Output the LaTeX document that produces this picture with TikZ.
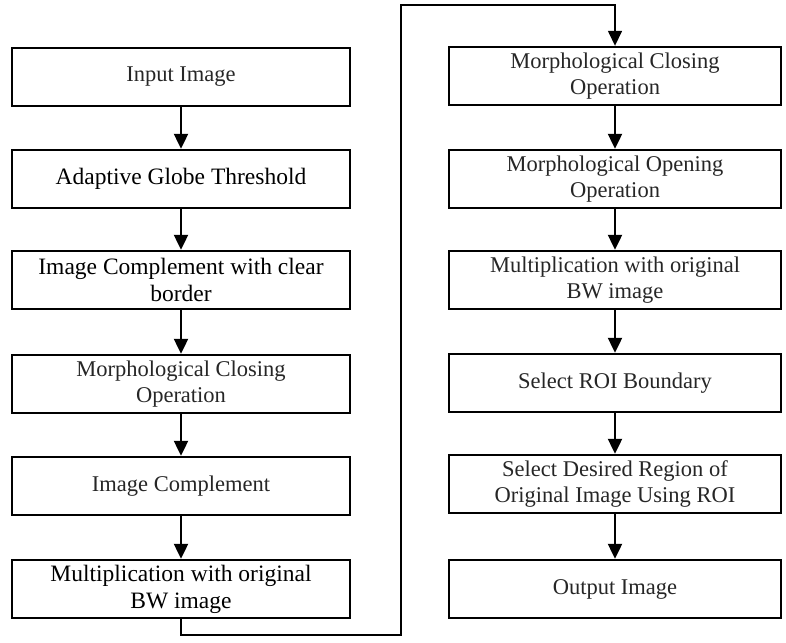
\documentclass[tikz,border=0pt]{standalone}
\usepackage{fontspec}
\setmainfont{Liberation Serif}
\usetikzlibrary{arrows.meta}

\tikzset{
  stepbox/.style={draw, line width=2.4pt, minimum width=338pt, minimum height=58pt, inner sep=2pt, align=center, text=black!85, font=\fontsize{22.5}{26.5}\selectfont},
  darkbox/.style={stepbox, text=black, font=\fontsize{23.5}{27}\selectfont},
  flow/.style={line width=2.2pt, -{Triangle[length=15pt,width=14pt]}},
}

\begin{document}
\begin{tikzpicture}[x=1pt,y=1pt,yscale=-1,xscale=1]
\useasboundingbox (0,0) rectangle (786,642);

%Left column
\node[stepbox] (in1) at (181,77) {Input Image};
\node[darkbox] (in2) at (181,179) {Adaptive Globe Threshold};
\node[darkbox] (in3) at (181,280) {Image Complement with clear\\border};
\node[stepbox] (in4) at (181,384) {Morphological Closing\\Operation};
\node[stepbox] (in5) at (181,486) {Image Complement};
\node[darkbox] (in6) at (181,589) {Multiplication with original\\BW image};

%Right column
\node[stepbox, minimum width=332pt] (out1) at (615,76) {Morphological Closing\\Operation};
\node[stepbox, minimum width=332pt] (out2) at (615,179) {Morphological Opening\\Operation};
\node[stepbox, minimum width=332pt] (out3) at (615,280) {Multiplication with original\\BW image};
\node[stepbox, minimum width=332pt] (out4) at (615,383) {Select ROI Boundary};
\node[stepbox, minimum width=332pt] (out5) at (615,484) {Select Desired Region of\\Original Image Using ROI};
\node[stepbox, minimum width=332pt] (out6) at (615,589) {Output Image};

%Straight Lines
\foreach \a/\b in {in1/in2,in2/in3,in3/in4,in4/in5,in5/in6,out1/out2,out2/out3,out3/out4,out4/out5,out5/out6}
  \draw[flow] (\a.south) -- (\b.north);

%Link between the two columns
\coordinate (turn) at (401,5);
\draw[flow, line width=1.5pt] (in6.south) -- ++(0,16) -| (turn) -| (out1.north);

\end{tikzpicture}
\end{document}
